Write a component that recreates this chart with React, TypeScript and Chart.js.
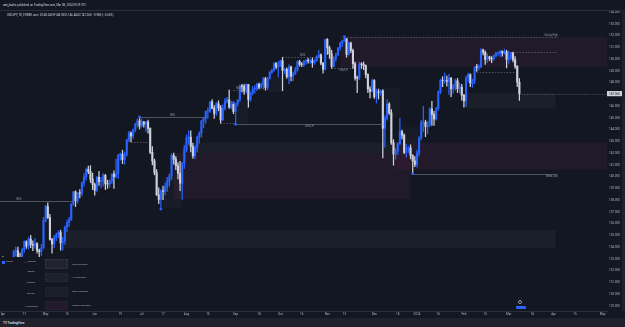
import React, { useEffect, useRef } from 'react';
import { Chart, registerables } from 'chart.js';

Chart.register(...registerables);

// ---------- data (USDJPY, 1D) ----------
const dates = [
  '23-04-03','23-04-04','23-04-05','23-04-06','23-04-07','23-04-10','23-04-11','23-04-12','23-04-13','23-04-14',
  '23-04-17','23-04-18','23-04-19','23-04-20','23-04-21','23-04-24','23-04-25','23-04-26','23-04-27','23-04-28',
  '23-05-01','23-05-02','23-05-03','23-05-04','23-05-05','23-05-08','23-05-09','23-05-10','23-05-11','23-05-12',
  '23-05-15','23-05-16','23-05-17','23-05-18','23-05-19','23-05-22','23-05-23','23-05-24','23-05-25','23-05-26',
  '23-05-29','23-05-30','23-05-31','23-06-01','23-06-02','23-06-05','23-06-06','23-06-07','23-06-08','23-06-09',
  '23-06-12','23-06-13','23-06-14','23-06-15','23-06-16','23-06-19','23-06-20','23-06-21','23-06-22','23-06-23',
  '23-06-26','23-06-27','23-06-28','23-06-29','23-06-30','23-07-03','23-07-04','23-07-05','23-07-06','23-07-07',
  '23-07-10','23-07-11','23-07-12','23-07-13','23-07-14','23-07-17','23-07-18','23-07-19','23-07-20','23-07-21',
  '23-07-24','23-07-25','23-07-26','23-07-27','23-07-28','23-07-31','23-08-01','23-08-02','23-08-03','23-08-04',
  '23-08-07','23-08-08','23-08-09','23-08-10','23-08-11','23-08-14','23-08-15','23-08-16','23-08-17','23-08-18',
  '23-08-21','23-08-22','23-08-23','23-08-24','23-08-25','23-08-28','23-08-29','23-08-30','23-08-31','23-09-01',
  '23-09-04','23-09-05','23-09-06','23-09-07','23-09-08','23-09-11','23-09-12','23-09-13','23-09-14','23-09-15',
  '23-09-18','23-09-19','23-09-20','23-09-21','23-09-22','23-09-25','23-09-26','23-09-27','23-09-28','23-09-29',
  '23-10-02','23-10-03','23-10-04','23-10-05','23-10-06','23-10-09','23-10-10','23-10-11','23-10-12','23-10-13',
  '23-10-16','23-10-17','23-10-18','23-10-19','23-10-20','23-10-23','23-10-24','23-10-25','23-10-26','23-10-27',
  '23-10-30','23-10-31','23-11-01','23-11-02','23-11-03','23-11-06','23-11-07','23-11-08','23-11-09','23-11-10',
  '23-11-13','23-11-14','23-11-15','23-11-16','23-11-17','23-11-20','23-11-21','23-11-22','23-11-23','23-11-24',
  '23-11-27','23-11-28','23-11-29','23-11-30','23-12-01','23-12-04','23-12-05','23-12-06','23-12-07','23-12-08',
  '23-12-11','23-12-12','23-12-13','23-12-14','23-12-15','23-12-18','23-12-19','23-12-20','23-12-21','23-12-22',
  '23-12-26','23-12-27','23-12-28','23-12-29','24-01-02','24-01-03','24-01-04','24-01-05',
  '24-01-08','24-01-09','24-01-10','24-01-11','24-01-12','24-01-15','24-01-16','24-01-17','24-01-18','24-01-19',
  '24-01-22','24-01-23','24-01-24','24-01-25','24-01-26','24-01-29','24-01-30','24-01-31','24-02-01','24-02-02',
  '24-02-05','24-02-06','24-02-07','24-02-08','24-02-09','24-02-12','24-02-13','24-02-14','24-02-15','24-02-16',
  '24-02-19','24-02-20','24-02-21','24-02-22','24-02-23','24-02-26','24-02-27','24-02-28','24-02-29','24-03-01',
  '24-03-04','24-03-05','24-03-06','24-03-07','24-03-08',
];

const opens = [
  132.80,132.45,131.70,131.33,131.75, 132.18,133.64,133.69,133.08,132.64,
  133.78,134.47,134.10,134.70,134.23, 134.17,134.29,133.71,133.63,133.94,
  136.29,137.46,136.52,134.66,134.27, 134.83,135.06,135.25,134.37,134.50,
  135.72,136.09,136.38,137.65,138.70, 137.94,138.60,138.57,139.49,139.99,
  140.61,140.43,139.79,139.34,138.84, 139.95,139.58,139.62,140.12,139.38,
  139.37,139.59,140.21,140.00,140.27, 141.83,141.90,141.46,141.87,143.11,
  143.71,143.45,143.97,144.45,144.74, 144.31,144.65,144.46,144.65,144.10,
  142.07,141.33,140.33,138.45,138.06, 138.79,138.74,139.15,139.63,140.06,
  141.80,141.49,140.94,140.29,139.43, 141.16,142.28,143.31,143.35,142.57,
  141.76,142.45,143.35,143.73,144.74, 144.95,145.55,145.57,146.36,145.82,
  145.38,146.20,145.85,144.83,145.81, 146.41,146.53,145.92,146.18,145.54,
  146.22,146.52,147.70,147.67,147.27, 147.83,146.55,147.11,147.46,147.47,
  147.85,147.61,147.86,148.33,147.59, 148.36,148.86,149.06,149.62,149.33,
  149.37,149.86,149.02,149.13,148.50, 149.32,148.54,148.73,149.10,149.79,
  149.57,149.52,149.82,149.87,149.83, 149.86,149.70,149.89,150.22,150.36,
  149.66,149.13,151.67,150.96,150.45, 149.38,150.04,150.36,150.95,151.36,
  151.52,151.71,150.40,151.36,150.73, 149.60,148.38,148.37,149.55,149.53,
  149.44,148.69,147.45,147.24,148.18, 146.80,147.23,147.17,147.29,144.11,
  144.95,146.17,145.42,142.89,141.92, 142.17,142.81,143.84,143.53,142.07,
  142.41,142.43,141.81,141.34, 141.04,142.01,143.28,144.62,
  144.62,144.25,144.47,145.75,145.29, 144.90,145.78,147.20,148.17,148.14,
  148.14,148.10,148.36,147.47,147.64, 148.15,147.48,147.60,146.92,146.44,
  148.38,148.68,147.95,148.18,149.31, 149.29,149.35,150.77,150.57,149.95,
  150.19,150.04,150.01,150.30,150.50, 150.51,150.66,150.51,150.62,149.98,
  150.10,150.52,149.95,149.38,148.04,
];

const highs = [
  133.20,132.85,131.90,132.00,132.35, 133.75,134.00,134.00,133.50,133.90,
  134.55,134.55,134.85,135.00,134.55, 134.75,134.40,133.85,134.25,136.55,
  137.55,137.77,136.80,134.75,135.00, 135.20,135.40,135.45,134.85,135.80,
  136.30,136.55,137.70,138.75,138.80, 138.65,138.90,139.55,140.25,140.72,
  140.90,140.93,140.30,139.45,140.00, 140.45,139.95,140.25,140.20,139.70,
  139.75,140.25,140.50,141.50,141.90, 142.00,142.25,142.10,143.20,143.85,
  143.80,144.05,144.55,144.90,145.07, 144.90,144.70,144.70,144.80,144.15,
  142.55,141.50,140.60,139.05,138.90, 139.20,139.45,139.95,140.25,141.95,
  142.00,141.70,141.20,141.30,141.20, 142.65,143.55,143.90,143.90,142.85,
  142.65,143.45,143.80,144.80,145.00, 145.60,145.85,146.40,146.55,146.05,
  146.30,146.45,146.05,146.10,146.65, 146.75,147.35,146.40,146.30,146.25,
  146.55,147.80,147.85,147.85,147.90, 147.85,147.20,147.65,147.75,147.95,
  147.95,147.95,148.45,148.45,148.45, 148.95,149.15,149.70,149.70,149.80,
  149.90,150.16,149.20,149.25,149.50, 149.40,148.90,149.30,149.85,149.90,
  149.70,149.90,149.95,150.05,150.00, 150.10,150.00,150.30,150.75,150.45,
  149.70,151.70,151.75,151.10,150.75, 150.20,150.50,151.00,151.45,151.60,
  151.91,151.75,151.45,151.45,150.85, 149.75,148.55,149.75,149.70,149.75,
  149.50,148.75,147.65,148.30,148.25, 147.45,147.45,147.35,147.40,145.20,
  146.55,146.30,145.70,143.15,142.40, 142.90,144.95,143.95,143.65,142.75,
  142.55,142.70,141.85,141.70, 142.25,143.40,144.80,145.98,
  144.80,144.70,145.85,146.40,145.55, 145.90,147.30,148.30,148.50,148.80,
  148.55,148.70,148.45,147.85,148.30, 148.35,147.95,147.85,147.00,148.55,
  148.80,148.75,148.30,149.35,149.55, 149.50,150.89,150.85,150.70,150.45,
  150.25,150.20,150.35,150.60,150.60, 150.75,150.70,150.85,150.75,150.65,
  150.55,150.60,150.20,149.45,148.35,
];

const lows = [
  132.05,131.50,130.63,130.98,131.45, 131.75,133.25,132.85,132.25,132.55,
  133.55,133.90,133.85,133.95,133.70, 133.90,133.50,133.00,133.30,133.90,
  136.15,136.45,134.60,133.50,133.95, 134.55,134.80,133.75,133.75,134.25,
  135.30,135.75,136.25,137.55,137.45, 137.75,138.20,138.35,139.20,139.70,
  140.25,139.50,138.90,138.43,138.70, 139.25,139.05,139.20,138.90,139.00,
  139.10,139.40,139.00,139.90,139.85, 141.40,141.10,141.05,141.75,142.95,
  142.95,143.25,143.80,144.20,144.05, 144.20,144.20,143.85,143.70,141.95,
  141.00,140.15,138.40,137.70,137.24, 138.05,138.45,138.75,139.20,139.75,
  141.05,140.60,139.80,138.80,138.07, 140.70,142.10,142.75,142.10,141.55,
  141.55,142.10,142.85,143.35,144.15, 144.55,144.95,145.45,145.75,144.95,
  145.20,145.60,144.55,144.75,145.65, 146.25,145.80,145.75,145.35,144.45,
  146.00,146.40,147.20,147.00,147.10, 145.90,146.40,146.95,147.10,147.30,
  147.45,147.50,147.45,147.35,147.40, 148.30,148.75,148.95,149.15,148.50,
  149.35,147.30,148.75,148.35,147.90, 148.15,148.15,148.70,148.95,149.40,
  149.35,149.35,149.55,149.65,149.60, 149.30,149.55,149.80,150.10,149.50,
  148.80,149.05,150.40,150.05,149.20, 149.30,149.80,150.30,150.75,151.05,
  151.50,150.15,150.35,150.55,149.20, 148.20,147.15,148.25,149.20,149.10,
  148.40,147.15,146.70,147.20,146.65, 146.25,146.60,146.90,141.60,142.50,
  144.80,145.30,142.75,140.97,141.50, 141.90,142.75,143.20,141.95,141.65,
  142.05,141.50,140.25,140.85, 140.80,141.75,143.10,143.80,
  143.40,143.65,144.25,144.35,144.35, 144.80,145.65,147.05,147.65,147.95,
  147.70,146.98,146.80,147.10,147.35, 147.15,147.10,146.50,145.90,145.95,
  148.05,147.65,147.60,147.90,148.95, 149.05,149.25,150.35,149.55,149.70,
  149.85,149.70,149.90,150.15,150.30, 150.20,150.25,150.40,149.25,149.65,
  149.95,149.75,149.20,147.65,146.48,
];

const closes = [
  132.45,131.70,131.33,131.75,132.18, 133.64,133.69,133.08,132.64,133.78,
  134.47,134.10,134.70,134.23,134.17, 134.29,133.71,133.63,133.94,136.29,
  137.46,136.52,134.66,134.27,134.83, 135.06,135.25,134.37,134.50,135.72,
  136.09,136.38,137.65,138.70,137.94, 138.60,138.57,139.49,139.99,140.61,
  140.43,139.79,139.34,138.84,139.95, 139.58,139.62,140.12,139.38,139.37,
  139.59,140.21,140.00,140.27,141.83, 141.90,141.46,141.87,143.11,143.71,
  143.45,143.97,144.45,144.74,144.31, 144.65,144.46,144.65,144.10,142.07,
  141.33,140.33,138.45,138.06,138.79, 138.74,139.15,139.63,140.06,141.80,
  141.49,140.94,140.29,139.43,141.16, 142.28,143.31,143.35,142.57,141.76,
  142.45,143.35,143.73,144.74,144.95, 145.55,145.57,146.36,145.82,145.38,
  146.20,145.85,144.83,145.81,146.41, 146.53,145.92,146.18,145.54,146.22,
  146.52,147.70,147.67,147.27,147.83, 146.55,147.11,147.46,147.47,147.85,
  147.61,147.86,148.33,147.59,148.36, 148.86,149.06,149.62,149.33,149.37,
  149.86,149.02,149.13,148.50,149.32, 148.54,148.73,149.10,149.79,149.57,
  149.52,149.82,149.87,149.83,149.86, 149.70,149.89,150.22,150.36,149.66,
  149.13,151.67,150.96,150.45,149.38, 150.04,150.36,150.95,151.36,151.52,
  151.71,150.40,151.36,150.73,149.60, 148.38,148.37,149.55,149.53,149.44,
  148.69,147.45,147.24,148.18,146.80, 147.23,147.17,147.29,144.11,144.95,
  146.17,145.42,142.89,141.92,142.17, 142.81,143.84,143.53,142.07,142.41,
  142.43,141.81,141.34,141.04, 142.01,143.28,144.62,144.62,
  144.25,144.47,145.75,145.29,144.90, 145.78,147.20,148.17,148.14,148.14,
  148.10,148.36,147.47,147.64,148.15, 147.48,147.60,146.92,146.44,148.38,
  148.68,147.95,148.18,149.31,149.29, 149.35,150.77,150.57,149.95,150.19,
  150.04,150.01,150.30,150.50,150.51, 150.66,150.51,150.62,149.98,150.10,
  150.52,149.95,149.38,148.04,147.06,
];

// time-axis ticks (bar index -> label)
const xTickIdx = [0, 10, 20, 30, 43, 55, 65, 75, 86, 96, 109, 120, 130, 140, 152, 160, 174, 185, 194, 204, 216, 226, 237, 248, 258, 268, 281];
const xTickLabels = ['Apr', '17', 'May', '15', 'Jun', '19', 'Jul', '17', 'Aug', '15', 'Sep', '18', 'Oct', '16', 'Nov', '13', 'Dec', '18', '2024', '16', 'Feb', '15', 'Mar', '18', 'Apr', '15', 'May'];

// visible range
const X_MIN = -1.39;
const X_MAX = 283.05;
const Y_MIN = 128.575;
const Y_MAX = 154.17;

// supply / demand zones (bar index, price)
const zoneKind = ['supply', 'grey', 'supply', 'grey', 'supply', 'grey', 'box', 'box', 'box', 'box', 'box'];
const zoneFrom = [158, 217, 80, 84, 184, 27, 75, 109, 124, 178, 186];
const zoneTo = [X_MAX, 259, 191, 191, X_MAX, 259, 84, 115, 131, 186, 195];
const zoneTop = [151.91, 147.1, 142.0, 142.9, 142.9, 135.46, 140.0, 146.5, 148.5, 147.5, 144.2];
const zoneBottom = [149.3, 145.8, 138.1, 142.0, 140.6, 133.93, 137.3, 144.5, 147.2, 145.1, 142.9];

// structure levels
const lvlPrice = [137.91, 145.07, 147.35, 144.45, 150.16, 149.2, 151.91, 140.25, 150.62, 148.87, 142.95, 144.55];
const lvlFrom = [-18, 64, 108, 109, 131, 154, 160, 192, 235, 222, 60, 102];
const lvlTo = [33, 95, 113, 178, 150, 165, 260, 260, 260, 240, 68, 109];
const lvlText = ['BOS', 'BOS', 'BOS', 'CHoCH', 'BOS', 'CHoCH', 'Strong High', 'Weak Low', '', '', '', ''];
const lvlSide = ['above', 'above', 'above', 'below', 'above', 'below', 'endAbove', 'endBelow', 'above', 'above', 'above', 'above'];
const lvlDashed = [false, false, true, false, true, true, true, false, true, true, true, true];

// swing pivots (bar index, H = high / L = low)
const pivotIdx = [64, 74, 108, 109, 160, 192];
const pivotType = ['H', 'L', 'H', 'L', 'H', 'L'];

// ---------- styling ----------
const BG = '#131722';
const UP = '#2962ff';
const DOWN = '#cfd2da';
const FONT = 'Roboto, "DejaVu Sans", sans-serif';
const ZONE_FILL: Record<string, string> = {
  supply: 'rgba(100, 40, 85, 0.17)',
  grey: 'rgba(120, 123, 134, 0.08)',
  box: 'rgba(120, 123, 134, 0.06)',
};

const smcPlugin = {
  id: 'smc',
  beforeDatasetsDraw(chart: any) {
    const { ctx, chartArea: a, scales } = chart;
    const x = scales.x;
    const y = scales.y;
    ctx.save();
    ctx.beginPath();
    ctx.rect(a.left, a.top, a.right - a.left, a.bottom - a.top);
    ctx.clip();
    for (let k = 0; k < zoneFrom.length; k++) {
      const x0 = x.getPixelForValue(zoneFrom[k]);
      const x1 = x.getPixelForValue(zoneTo[k]);
      const y0 = y.getPixelForValue(zoneTop[k]);
      const y1 = y.getPixelForValue(zoneBottom[k]);
      ctx.fillStyle = ZONE_FILL[zoneKind[k]];
      ctx.fillRect(x0, y0, x1 - x0, y1 - y0);
    }
    ctx.restore();
  },
  afterDatasetsDraw(chart: any) {
    const { ctx, chartArea: a, scales } = chart;
    const x = scales.x;
    const y = scales.y;
    ctx.save();
    ctx.beginPath();
    ctx.rect(a.left, a.top, a.right - a.left, a.bottom - a.top);
    ctx.clip();
    ctx.font = `2.6px ${FONT}`;
    for (let k = 0; k < lvlPrice.length; k++) {
      const x0 = x.getPixelForValue(lvlFrom[k]);
      const x1 = x.getPixelForValue(lvlTo[k]);
      const yy = Math.round(y.getPixelForValue(lvlPrice[k])) + 0.5;
      ctx.strokeStyle = lvlDashed[k] ? 'rgba(140,143,154,0.7)' : 'rgba(120,123,134,0.85)';
      ctx.lineWidth = 0.7;
      ctx.setLineDash(lvlDashed[k] ? [1.5, 1.5] : []);
      ctx.beginPath();
      ctx.moveTo(x0, yy);
      ctx.lineTo(x1, yy);
      ctx.stroke();
      const t = lvlText[k];
      if (t) {
        ctx.fillStyle = '#9598a1';
        const side = lvlSide[k];
        if (side === 'endAbove' || side === 'endBelow') {
          ctx.textAlign = 'right';
          ctx.textBaseline = side === 'endAbove' ? 'bottom' : 'top';
          ctx.fillText(t, x1, side === 'endAbove' ? yy - 1 : yy + 1);
        } else {
          const xl = Math.max(x0, a.left);
          ctx.textAlign = 'center';
          ctx.textBaseline = side === 'above' ? 'bottom' : 'top';
          ctx.fillText(t, (x0 + x1) / 2 > xl ? (x0 + x1) / 2 : xl, side === 'above' ? yy - 0.8 : yy + 0.8);
        }
      }
    }
    ctx.setLineDash([]);
    // pivots
    ctx.fillStyle = UP;
    for (let k = 0; k < pivotIdx.length; k++) {
      const i = pivotIdx[k];
      const v = pivotType[k] === 'H' ? highs[i] : lows[i];
      ctx.beginPath();
      ctx.arc(x.getPixelForValue(i), y.getPixelForValue(v), 1.4, 0, Math.PI * 2);
      ctx.fill();
    }
    // last price line
    const last = closes[closes.length - 1];
    const ly = Math.round(y.getPixelForValue(last)) + 0.5;
    ctx.strokeStyle = 'rgba(201,204,212,0.55)';
    ctx.lineWidth = 0.6;
    ctx.setLineDash([1, 1.5]);
    ctx.beginPath();
    ctx.moveTo(x.getPixelForValue(closes.length - 1), ly);
    ctx.lineTo(a.right, ly);
    ctx.stroke();
    ctx.restore();
  },
  afterDraw(chart: any) {
    const { ctx, chartArea: a, scales } = chart;
    const y = scales.y;
    const last = closes[closes.length - 1];
    const ly = y.getPixelForValue(last);
    ctx.save();
    ctx.fillStyle = '#d1d4dc';
    ctx.fillRect(a.right, ly - 2.6, 15.5, 5.2);
    ctx.fillStyle = '#131722';
    ctx.font = `3px ${FONT}`;
    ctx.textAlign = 'left';
    ctx.textBaseline = 'middle';
    ctx.fillText(last.toFixed(3), a.right + 2, ly + 0.2);
    ctx.restore();
  },
};

function T(props: { x: number; y: number; size?: number; color?: string; children: React.ReactNode; center?: boolean; bold?: boolean }) {
  const { x, y, size = 2.8, color = '#b2b5be', children, center, bold } = props;
  return (
    <div
      style={{
        position: 'absolute',
        left: x,
        top: y,
        transform: center ? 'translate(-50%, -50%)' : 'translateY(-50%)',
        fontSize: size,
        lineHeight: 1,
        color,
        whiteSpace: 'nowrap',
        fontWeight: bold ? 700 : 400,
      }}
    >
      {children}
    </div>
  );
}

export default function App() {
  const ref = useRef<HTMLCanvasElement>(null);

  useEffect(() => {
    document.body.style.margin = '0';
    document.body.style.background = BG;
    const canvas = ref.current!;
    Chart.defaults.font.family = FONT;
    const colors = closes.map((c, i) => (c >= opens[i] ? UP : DOWN));
    const bodies = closes.map((c, i) => ({ x: i, y: [opens[i], c] }));
    const wicks = closes.map((_, i) => ({ x: i, y: [lows[i], highs[i]] }));
    const chart = new Chart(canvas, {
      type: 'bar',
      data: {
        labels: dates,
        datasets: [
          { data: bodies as any, backgroundColor: colors, barThickness: 1.45, minBarLength: 0.7, grouped: false, borderWidth: 0 } as any,
          { data: wicks as any, backgroundColor: colors, barThickness: 0.6, grouped: false, borderWidth: 0 } as any,
        ],
      },
      options: {
        animation: false,
        responsive: false,
        events: [],
        layout: { padding: { top: 10, bottom: 9, left: 0, right: 0 } },
        plugins: { legend: { display: false }, tooltip: { enabled: false } },
        scales: {
          x: {
            type: 'linear',
            min: X_MIN,
            max: X_MAX,
            offset: false,
            grid: { display: false, drawTicks: false },
            border: { display: true, color: '#2a2e39' },
            ticks: {
              autoSkip: false,
              maxRotation: 0,
              includeBounds: false,
              padding: 1.6,
              color: '#b2b5be',
              font: { size: 3, family: FONT },
              callback: (_v: any, i: number) => xTickLabels[i] ?? '',
            },
            afterBuildTicks: (s: any) => {
              s.ticks = xTickIdx.map((v) => ({ value: v }));
            },
            afterFit: (s: any) => {
              s.height = 7;
              s.paddingLeft = 0;
              s.paddingRight = 0;
            },
          } as any,
          y: {
            type: 'linear',
            position: 'right',
            min: Y_MIN,
            max: Y_MAX,
            beginAtZero: false,
            grid: { display: false, drawTicks: false },
            border: { display: false },
            ticks: {
              stepSize: 1,
              includeBounds: false,
              autoSkip: false,
              padding: 2,
              color: '#b2b5be',
              font: { size: 3, family: FONT },
              callback: (v: any) => (Math.abs(Number(v) - closes[closes.length - 1]) < 0.45 ? '' : Number(v).toFixed(3)),
            },
            afterFit: (s: any) => {
              s.width = 18;
              s.paddingTop = 0;
              s.paddingBottom = 0;
            },
          } as any,
        },
      },
      plugins: [smcPlugin],
    });
    return () => chart.destroy();
  }, []);

  const legendBox = (y: number, fill: string, border: string) => (
    <div style={{ position: 'absolute', left: 45, top: y, width: 23, height: 9.5, background: fill, border: `0.5px dotted ${border}`, boxSizing: 'border-box' }} />
  );

  return (
    <div style={{ position: 'fixed', left: 0, top: 0, width: 625, height: 327, background: BG, overflow: 'hidden', fontFamily: FONT }}>
      <canvas ref={ref} width={625} height={327} style={{ position: 'absolute', left: 0, top: 0, width: 625, height: 327 }} />
      {/* header */}
      <div style={{ position: 'absolute', left: 0, top: 9.5, width: 625, height: 0.6, background: '#2a2e39' }} />
      <T x={3} y={4.5} size={2.8} color="#d1d4dc">aee_basho published on TradingView.com, Mar 08, 2024 09:29 UTC</T>
      <T x={7} y={15} size={2.9} color="#d1d4dc">
        USDJPY, 1D, FOREX.com&nbsp;&nbsp;O<span style={{ color: '#c9ccd4' }}>148.040</span> H<span>148.350</span> L<span>146.484</span> C<span>147.060</span> −0.980 (−0.66%)
      </T>
      {/* right strip */}
      <div style={{ position: 'absolute', left: 622, top: 10, width: 3, height: 301, background: '#1e222d' }} />
      {/* footer */}
      <div style={{ position: 'absolute', left: 0, top: 318, width: 625, height: 9, background: '#1e222d' }} />
      <T x={3} y={322.5} size={3} color="#d1d4dc" bold>
        TV TradingView
      </T>
      {/* bottom-right icons */}
      <div style={{ position: 'absolute', left: 518, top: 300, width: 4, height: 4, borderRadius: 3, border: '0.6px solid #9598a1', boxSizing: 'border-box' }} />
      <div style={{ position: 'absolute', left: 515.5, top: 305.5, width: 10, height: 3.5, borderRadius: 1, background: '#2962ff' }} />
      {/* legend */}
      <div style={{ position: 'absolute', left: 0, top: 257, width: 96, height: 54, background: BG }} />
      <div style={{ position: 'absolute', left: 1.5, top: 260.5, width: 3, height: 3, background: UP }} />
      <T x={6} y={262.2} size={2.5}>Swing</T>
      <div style={{ position: 'absolute', left: 24.5, top: 261.5, width: 1.4, height: 1.4, borderRadius: 1, background: UP }} />
      <T x={27.5} y={262.2} size={2.5}>Internal</T>
      <T x={31} y={272.3} size={2.5} center>Swing</T>
      <T x={31} y={283.3} size={2.5} center>Internal</T>
      <T x={31} y={294.3} size={2.5} center>Bullish</T>
      <T x={31} y={307} size={2.5} center>1-3 qualities</T>
      {legendBox(259, 'rgba(120,123,134,0.14)', '#3a3e4a')}
      {legendBox(272.5, 'rgba(120,123,134,0.10)', '#2a2e39')}
      {legendBox(287, 'rgba(120,123,134,0.07)', '#22262f')}
      {legendBox(300.5, 'rgba(100,40,85,0.22)', 'rgba(100,40,85,0.22)')}
      <T x={72} y={264.5} size={2.5}>This Sup Dem</T>
      <T x={72} y={278} size={2.5}>4H Sup Dem</T>
      <T x={72} y={292} size={2.5}>Daily Sup Dem</T>
      <T x={72} y={305.5} size={2.5}>Weekly Sup Dem</T>
    </div>
  );
}
